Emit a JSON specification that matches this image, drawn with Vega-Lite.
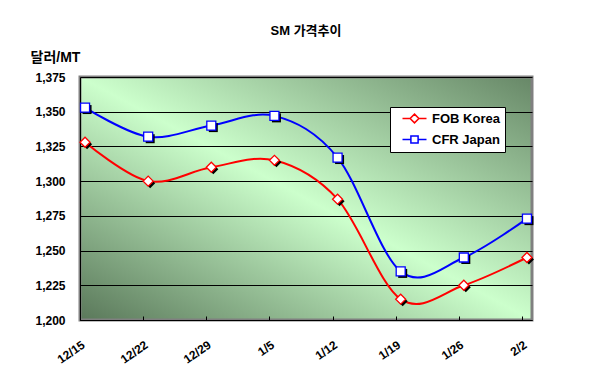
{
  "$schema": "https://vega.github.io/schema/vega-lite/v6.json",
  "width": 452,
  "height": 243,
  "autosize": {"type": "none"},
  "padding": {"left": 80, "top": 77, "right": 57, "bottom": 58},
  "background": "white",
  "title": {"text": "SM 가격추이", "font": "Liberation Sans, Noto Sans CJK KR", "fontSize": 13, "fontWeight": "bold", "anchor": "middle", "offset": 12, "color": "black"},
  "view": {
    "fill": {"gradient": "linear", "x1": 0, "y1": 1, "x2": 1, "y2": 0,
      "stops": [{"offset": 0, "color": "#5a785a"}, {"offset": 0.5, "color": "#ccffcc"}, {"offset": 1, "color": "#678767"}]},
    "stroke": "#808080",
    "strokeWidth": 3
  },
  "data": {"values": [
    {"date": "12/15", "series": "FOB Korea", "price": 1328},
    {"date": "12/22", "series": "FOB Korea", "price": 1300},
    {"date": "12/29", "series": "FOB Korea", "price": 1310},
    {"date": "1/5", "series": "FOB Korea", "price": 1315},
    {"date": "1/12", "series": "FOB Korea", "price": 1287},
    {"date": "1/19", "series": "FOB Korea", "price": 1215},
    {"date": "1/26", "series": "FOB Korea", "price": 1225},
    {"date": "2/2", "series": "FOB Korea", "price": 1245},
    {"date": "12/15", "series": "CFR Japan", "price": 1353},
    {"date": "12/22", "series": "CFR Japan", "price": 1332},
    {"date": "12/29", "series": "CFR Japan", "price": 1340},
    {"date": "1/5", "series": "CFR Japan", "price": 1347},
    {"date": "1/12", "series": "CFR Japan", "price": 1317},
    {"date": "1/19", "series": "CFR Japan", "price": 1235},
    {"date": "1/26", "series": "CFR Japan", "price": 1245},
    {"date": "2/2", "series": "CFR Japan", "price": 1273}
  ]},
  "encoding": {
    "x": {"field": "date", "type": "ordinal", "sort": null,
      "scale": {"type": "point", "padding": 0.08},
      "axis": {"title": null, "labelAngle": -35, "labelAlign": "right", "labelBaseline": "top", "grid": false, "tickSize": -4, "tickOffset": -5, "labelPadding": 23}},
    "y": {"field": "price", "type": "quantitative",
      "scale": {"domain": [1200, 1375], "nice": false, "zero": false},
      "axis": {"title": "달러/MT", "values": [1200, 1225, 1250, 1275, 1300, 1325, 1350, 1375], "format": ",d",
        "ticks": false, "labelPadding": 15, "grid": true, "gridColor": "black", "gridWidth": 1, "gridOpacity": 1,
        "titleAngle": 0, "titleAlign": "left", "titleBaseline": "middle", "titleX": -50, "titleY": -20, "titleFontSize": 14}}
  },
  "layer": [
    {
      "transform": [{"filter": "datum.series === 'FOB Korea'"}],
      "mark": {"type": "line", "interpolate": "cardinal", "strokeWidth": 2, "stroke": "#ff0000"}
    },
    {
      "transform": [{"filter": "datum.series === 'CFR Japan'"}],
      "mark": {"type": "line", "interpolate": "cardinal", "strokeWidth": 2, "stroke": "#0000ff"}
    },
    {
      "transform": [{"filter": "datum.series === 'FOB Korea'"}],
      "mark": {"type": "point", "shape": "diamond", "filled": true, "fill": "black", "strokeWidth": 0, "opacity": 1, "size": 100, "xOffset": 2, "yOffset": 2}
    },
    {
      "transform": [{"filter": "datum.series === 'CFR Japan'"}],
      "mark": {"type": "point", "shape": "square", "filled": true, "fill": "black", "strokeWidth": 0, "opacity": 1, "size": 81, "xOffset": 2, "yOffset": 2}
    },
    {
      "transform": [{"filter": "datum.series === 'FOB Korea'"}],
      "mark": {"type": "point", "shape": "diamond", "filled": true, "fill": "white", "stroke": "#ff0000", "strokeWidth": 1.3, "opacity": 1, "size": 100}
    },
    {
      "transform": [{"filter": "datum.series === 'CFR Japan'"}],
      "mark": {"type": "point", "shape": "square", "filled": true, "fill": "white", "stroke": "#0000ff", "strokeWidth": 1.3, "opacity": 1, "size": 81}
    },
    {
      "transform": [{"filter": "datum.price < 0"}],
      "mark": {"type": "point", "filled": false, "fill": "white", "strokeWidth": 1.5, "opacity": 1, "size": 64},
      "encoding": {
        "color": {"field": "series", "type": "nominal", "legend": {"title": null},
          "scale": {"domain": ["FOB Korea", "CFR Japan"], "range": ["#ff0000", "#0000ff"]}},
        "shape": {"field": "series", "type": "nominal", "legend": {"title": null},
          "scale": {"domain": ["FOB Korea", "CFR Japan"], "range": ["M-3,0H-1.1M1.1,0H3M0,-1.1L1.1,0L0,1.1L-1.1,0Z", "M-3,0H-0.9M0.9,0H3M-0.9,-0.9H0.9V0.9H-0.9Z"]}}
      }
    }
  ],
  "config": {
    "font": "Liberation Sans, Noto Sans CJK KR",
    "axis": {
      "labelFont": "Liberation Sans, Noto Sans CJK KR", "labelFontSize": 12, "labelFontWeight": "bold", "labelColor": "black",
      "titleFont": "Liberation Sans, Noto Sans CJK KR", "titleFontSize": 12, "titleFontWeight": "bold", "titleColor": "black",
      "domainColor": "black", "domainWidth": 1, "tickColor": "black"
    },
    "legend": {
      "orient": "none", "legendX": 310, "legendY": 30,
      "fillColor": "white", "strokeColor": "black", "strokeWidth": 1, "padding": 5,
      "labelFont": "Liberation Sans", "labelFontSize": 13, "labelFontWeight": "bold", "labelColor": "black",
      "symbolSize": 64, "symbolOffset": 13, "labelOffset": 11, "rowPadding": 6,
      "symbolStrokeWidth": 1.5, "symbolFillColor": "white", "symbolOpacity": 1
    }
  }
}
